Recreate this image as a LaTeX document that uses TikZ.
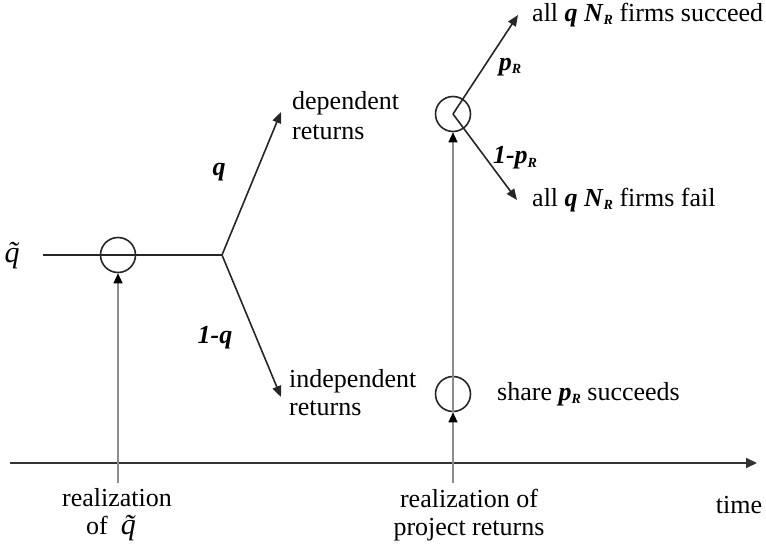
\documentclass[tikz,border=0pt]{standalone}
\usepackage{fontspec}
\setmainfont{Liberation Serif}
\usetikzlibrary{arrows.meta}
\usetikzlibrary{positioning}

\newcommand{\bi}[1]{\textbf{\textit{#1}}}
\newcommand{\subR}{\raisebox{-3.5pt}{\fontsize{14}{14}\selectfont\bi{R}}}

\begin{document}
\begin{tikzpicture}[x=1pt,y=-1pt,
        font=\fontsize{26}{28}\selectfont,
        state/.style={draw=black!85,circle,minimum size=35pt,inner sep=0pt,line width=1.6pt},
        branch/.style={draw=black!85,line width=1.6pt,-{Triangle[length=11pt,width=9pt]}},
        timing/.style={draw=black!45,line width=1.1pt,-{Triangle[length=10pt,width=9pt,color=black]}},
        lbl/.style={inner sep=0pt,align=left}]
        \useasboundingbox (0,0) rectangle (766,546);
        % time axis
        \coordinate (t0) at (10,463);
        \coordinate (t1) at (757,463);
        \draw[draw=black!80,line width=2pt,-{Triangle[length=11pt,width=10pt]}] (t0)--(t1);
        \node[lbl,anchor=base] (time) at (739,513) {time};
        % first stage
        \node[lbl,anchor=base] (qt) at (18,262) {\fontsize{30}{30}\selectfont\textit{\~{q}}};
        \node[state] (c1) at (118,255) {};
        \coordinate (qs) at (43,255);
        \coordinate (fork) at (222,255);
        \draw[draw=black!85,line width=1.6pt] (qs)--(fork);
        \coordinate (dep) at (281,112);
        \coordinate (ind) at (281,397);
        \draw[branch] (fork)--(dep);
        \draw[branch] (fork)--(ind);
        \node[lbl,anchor=west,font=\fontsize{26}{30}\selectfont] (deptxt) at (292,116) {dependent\\returns};
        \node[lbl,anchor=west] (indtxt) at (289,393) {independent\\returns};
        \node[lbl] (pq) at (219,172) {\bi{q}};
        \node[lbl] (pnq) at (215,338) {\bi{1-q}};
        % second stage
        \node[state] (c2) at (453,114) {};
        \node[state] (c3) at (453,394) {};
        \coordinate (succ) at (518,15);
        \coordinate (fail) at (517,200);
        \draw[branch] (c2.center)--(succ);
        \draw[branch] (c2.center)--(fail);
        \node[lbl,anchor=base west] (succtxt) at (532,21) {all \bi{q} \bi{N}\subR{} firms succeed};
        \node[lbl,anchor=base west] (failtxt) at (532,206) {all \bi{q} \bi{N}\subR{} firms fail};
        \node[lbl] (pr) at (510,67) {\bi{p}\subR};
        \node[lbl] (npr) at (515,158) {\bi{1-p}\subR};
        \node[lbl,anchor=base west] (share) at (497,400) {share \bi{p}\subR{} succeeds};
        % realizations
        \coordinate (r1) at (118,483);
        \coordinate (r2) at (453,483);
        \draw[timing] (r1)--(c1.south);
        \draw[timing] (r2)--(c3.south);
        \draw[timing] (c3.south)--(c2.south);
        \node[lbl,align=center] (real1) at (117,515) {realization\\of\ \ \fontsize{30}{28}\selectfont\textit{\~{q}}};
        \node[lbl,align=center] (real2) at (469,515) {realization of\\project returns};
    \end{tikzpicture}
\end{document}
